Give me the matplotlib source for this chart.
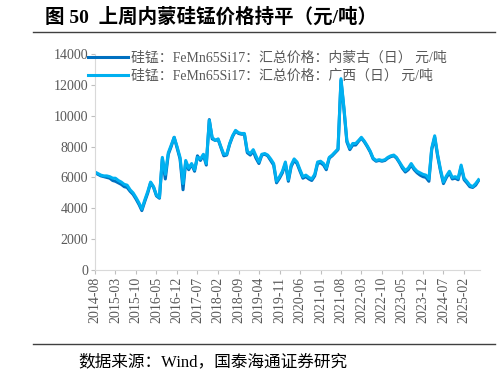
import matplotlib.pyplot as plt
import matplotlib.dates as mdates
import pandas as pd

# monthly readings, 2014-08 .. 2025-07 (yuan/ton)
start_month = '2014-08'
guangxi = [6350, 6250, 6150, 6100, 6100, 6050, 5950, 5950, 5800, 5700,
           5550, 5500, 5200, 5000, 4700, 4350, 3950, 4550, 5100, 5700,
           5400, 4850, 4700, 7300, 6200, 7600, 8100, 8600, 8000, 7300,
           5600, 7100, 6600, 6900, 6500, 7300, 7200, 7500, 6900, 9700,
           8600, 8400, 8500, 8000, 7500, 7500, 8200, 8700, 9050, 8900,
           8850, 8850, 7700, 7550, 7800, 7400, 7000, 7500, 7550, 7450,
           7200, 6900, 5750, 6050, 6400, 7000, 5850, 6800, 7200, 7000,
           6500, 6050, 6150, 6000, 5900, 6200, 7000, 7050, 6900, 6600,
           7300, 7450, 7650, 7850, 12400, 10500, 8400, 7900, 8200, 8200,
           8400, 8600, 8350, 8050, 7700, 7250, 7100, 7150, 7100, 7150,
           7300, 7400, 7450, 7300, 7000, 6700, 6450, 6600, 6900, 6600,
           6400, 6300, 6200, 6150, 5900, 7900, 8700, 7500, 6500, 5700,
           6100, 6400, 6000, 6050, 5950, 6800, 5950, 5750, 5500, 5400,
           5600, 5850]
neimenggu = [6300, 6200, 6100, 6050, 6000, 5950, 5800, 5750, 5650, 5550,
             5400, 5350, 5100, 4900, 4600, 4250, 3850, 4450, 5000, 5650,
             5350, 4800, 4650, 7200, 5900, 7500, 8000, 8600, 7900, 7200,
             5200, 7000, 6500, 6850, 6400, 7400, 7100, 7450, 6800, 9750,
             8500, 8400, 8450, 7950, 7400, 7450, 8150, 8650, 9000, 8850,
             8800, 8800, 7600, 7450, 7700, 7250, 6900, 7450, 7500, 7400,
             7100, 6800, 5650, 5950, 6300, 6900, 5750, 6700, 7100, 6900,
             6400, 5950, 6050, 5900, 5800, 6100, 6900, 6950, 6800, 6500,
             7250, 7400, 7600, 7800, 12300, 10400, 8300, 7800, 8100, 8100,
             8350, 8550, 8300, 8000, 7650, 7200, 7050, 7100, 7050, 7100,
             7250, 7350, 7400, 7250, 6950, 6600, 6350, 6500, 6800, 6500,
             6300, 6150, 6050, 6000, 5750, 7800, 8600, 7400, 6400, 5600,
             6000, 6300, 5900, 5950, 5850, 6700, 5850, 5650, 5400, 5350,
             5500, 5800]
labels = ['硅锰：FeMn65Si17：汇总价格：内蒙古（日） 元/吨',
          '硅锰：FeMn65Si17：汇总价格：广西（日） 元/吨']
title = '图 50  上周内蒙硅锰价格持平（元/吨）'
source = '数据来源：Wind，国泰海通证券研究'

dates = pd.date_range(start_month, periods=len(guangxi), freq='MS')
fonts = ['Liberation Serif', 'Noto Sans CJK SC']
gray = '#595959'

fig = plt.figure(figsize=(5, 3.75), dpi=100)
ax = fig.add_axes([0.19, 0.28, 0.77, 0.576])

l1, = ax.plot(dates, neimenggu, color='#0070C0', lw=2.2)
l2, = ax.plot(dates, guangxi, color='#00B0F0', lw=2.2)

ax.set_ylim(0, 14000)
ax.set_yticks(range(0, 14001, 2000))
ax.set_xlim(dates[0], dates[-1] + pd.Timedelta(days=15))
ax.set_xticks(dates[::7])
ax.xaxis.set_major_formatter(mdates.DateFormatter('%Y-%m'))
for lab in ax.get_xticklabels():
    lab.set_rotation(90)
for lab in ax.get_xticklabels() + ax.get_yticklabels():
    lab.set_family(fonts)
    lab.set_fontsize(10)
    lab.set_color(gray)
ax.tick_params(colors='#bfbfbf', length=3, width=0.8, pad=2)
ax.tick_params(labelcolor=gray)
for s in ['top', 'right']:
    ax.spines[s].set_visible(False)
ax.spines['left'].set_color('#d9d9d9')
ax.spines['bottom'].set_color('#d9d9d9')

leg = fig.legend([l1, l2], labels, loc='upper left', bbox_to_anchor=(0.165, 0.877),
                 frameon=False, handlelength=2.9, handletextpad=0.2,
                 labelspacing=0.3, borderaxespad=0, prop={'family': fonts, 'size': 10})
for t in leg.get_texts():
    t.set_color(gray)

fig.text(0.09, 0.955, title, fontsize=14, fontweight='bold',
         family=fonts, va='center', ha='left')
fig.add_artist(plt.Line2D([0.066, 0.99], [0.914, 0.914], color='#404040', lw=1))
fig.add_artist(plt.Line2D([0.066, 0.99], [0.083, 0.083], color='#404040', lw=1))
fig.text(0.156, 0.035, source, fontsize=12, family=fonts, va='center', ha='left')

fig.savefig('out.png', dpi=100)
